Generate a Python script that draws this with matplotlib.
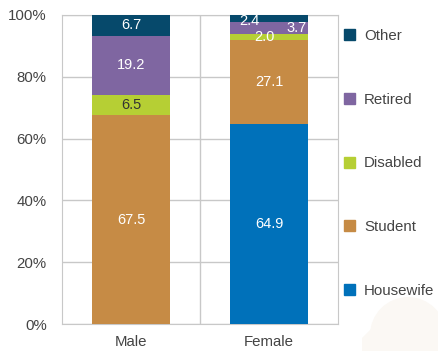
import matplotlib
matplotlib.use("Agg")
import matplotlib.pyplot as plt
from matplotlib.patches import Patch, Ellipse, Polygon
import numpy as np

plt.rcParams['font.family'] = ['Liberation Sans', 'DejaVu Sans']

groups = ["Male", "Female"]
series = ["Housewife", "Student", "Disabled", "Retired", "Other"]
values = {
    "Housewife": [0.0, 64.9],
    "Student":   [67.5, 27.1],
    "Disabled":  [6.5, 2.0],
    "Retired":   [19.2, 3.7],
    "Other":     [6.7, 2.4],
}
colors = {
    "Housewife": "#0071ba",
    "Student":   "#c68b45",
    "Disabled":  "#b6cf34",
    "Retired":   "#7f66a1",
    "Other":     "#06496b",
}
y_ticks = [0, 20, 40, 60, 80, 100]

fig = plt.figure(figsize=(4.38, 3.51), dpi=100)

# faint decorative silhouette in the lower right corner
deco = fig.add_axes([0, 0, 1, 1], zorder=-5)
deco.set_xlim(0, 438); deco.set_ylim(351, 0); deco.axis("off")
deco.add_patch(Ellipse((408, 335), 76, 76, color="#fbf8f4", lw=0))
deco.add_patch(Polygon([(362, 351), (362, 338), (378, 322), (438, 322), (438, 351)],
                       closed=True, color="#fbf8f4", lw=0))

ax = fig.add_axes([62/438, 1 - 324/351, 276/438, 309/351])
ax.set_facecolor("none")

x = np.arange(len(groups))
totals = np.sum([values[s] for s in series], axis=0)
bottom = np.zeros(len(groups))
width = 0.565
for s in series:
    raw = np.array(values[s])
    share = raw / totals * 100
    ax.bar(x, share, width, bottom=bottom, color=colors[s], label=s, zorder=3)
    for i in range(len(groups)):
        if raw[i] <= 0:
            continue
        cy = bottom[i] + share[i] / 2
        cx = x[i]
        color = "white"
        if s == "Disabled" and share[i] > 4:
            color = "#333333"
        # the thin slices of the second bar are spread out to stay legible
        if groups[i] == "Female" and s == "Other":
            cx -= 0.14; cy -= 0.6
        elif groups[i] == "Female" and s == "Retired":
            cx += 0.2
        elif groups[i] == "Female" and s == "Disabled":
            cx -= 0.03
        ax.text(cx, cy, f"{raw[i]:.1f}", ha="center", va="center",
                color=color, fontsize=10.5, zorder=4)
    bottom += share

ax.set_xlim(-0.5, 1.5)
ax.set_ylim(0, 100)
ax.set_yticks(y_ticks)
ax.set_yticklabels([f"{t}%" for t in y_ticks])
ax.set_xticks(x)
ax.set_xticklabels(groups)
ax.tick_params(length=0, labelsize=10.8, labelcolor="#444444")
ax.tick_params(axis="y", pad=11)
ax.tick_params(axis="x", pad=8)
ax.grid(axis="y", color="#c8c8c8", lw=1, zorder=0)
ax.axvline(0.5, color="#c8c8c8", lw=1, zorder=0)
for sp in ax.spines.values():
    sp.set_color("#c8c8c8")

handles = [Patch(color=colors[s], label=s) for s in reversed(series)]
leg = ax.legend(handles=handles, loc="upper left", bbox_to_anchor=(1.0, 0.975),
                frameon=False, fontsize=10.8, handlelength=0.75, handleheight=0.75,
                handletextpad=0.6, labelspacing=3.32, borderaxespad=0.0)
for t in leg.get_texts():
    t.set_color("#444444")

fig.savefig("out.png", dpi=100)
